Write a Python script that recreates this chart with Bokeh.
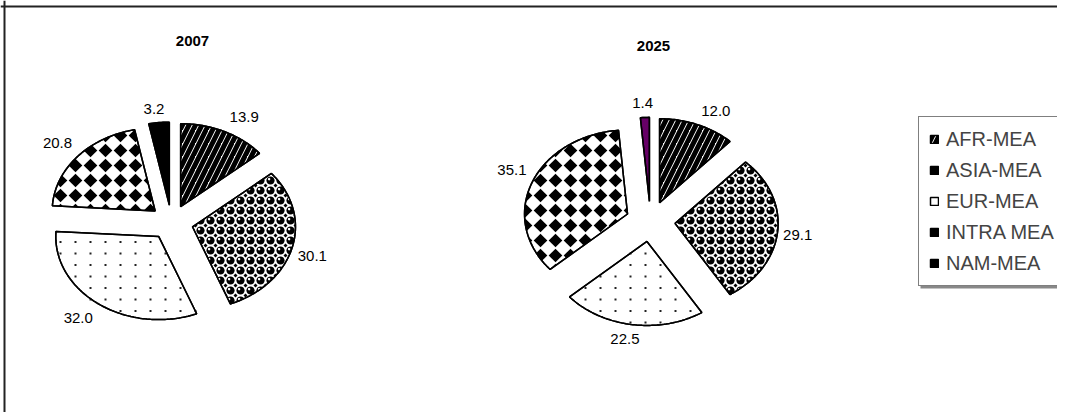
import numpy as np
from bokeh.plotting import figure
from bokeh.models import (ColumnDataSource, Range1d, Legend, LegendItem, Span,
                          BoxAnnotation)
from bokeh.core.properties import value
from bokeh.embed import file_html
from bokeh.resources import INLINE

# ---------------- data ----------------
categories = ["AFR-MEA", "ASIA-MEA", "EUR-MEA", "INTRA MEA", "NAM-MEA"]
years = ["2007", "2025"]
values_2007 = [13.9, 30.1, 32.0, 20.8, 3.2]
values_2025 = [12.0, 29.1, 22.5, 35.1, 1.4]

# ---------------- styles ----------------
base_hatch = ["right_diagonal_line", " ", " ", " ", " "]
pattern_kind = [None, "spheres", "dots", "diamonds", None]
nam_colors = ["black", "#660066"]

FONT = "Liberation Sans"
W, H = 1057, 412


def clip_convex(subj, clip):
    """Sutherland-Hodgman clipping of polygon subj against convex polygon clip."""
    area = sum(clip[i][0] * clip[(i + 1) % len(clip)][1] - clip[(i + 1) % len(clip)][0] * clip[i][1]
               for i in range(len(clip)))
    s = 1.0 if area > 0 else -1.0
    out = list(subj)
    n = len(clip)
    for i in range(n):
        if not out:
            break
        ax, ay = clip[i]
        bx, by = clip[(i + 1) % n]

        def inside(pt):
            return s * ((bx - ax) * (pt[1] - ay) - (by - ay) * (pt[0] - ax)) >= 0

        def inter(p1, p2):
            x1, y1 = p1
            x2, y2 = p2
            den = (x1 - x2) * (ay - by) - (y1 - y2) * (ax - bx)
            if abs(den) < 1e-12:
                return p2
            t = ((x1 - ax) * (ay - by) - (y1 - ay) * (ax - bx)) / den
            return (x1 + t * (x2 - x1), y1 + t * (y2 - y1))

        inp, out = out, []
        prev = inp[-1]
        for cur in inp:
            if inside(cur):
                if not inside(prev):
                    out.append(inter(prev, cur))
                out.append(cur)
            elif inside(prev):
                out.append(inter(prev, cur))
            prev = cur
    return out


def grid(poly, sx, sy):
    xs_ = [q[0] for q in poly]
    ys_ = [q[1] for q in poly]
    gx = np.arange(np.floor(min(xs_) / sx) * sx - sx, max(xs_) + sx, sx)
    gy = np.arange(np.floor(min(ys_) / sy) * sy - sy, max(ys_) + sy, sy)
    return [(x, y) for y in gy for x in gx]


def circle(x, y, r, n=16):
    t = np.linspace(0, 2 * np.pi, n, endpoint=False)
    return list(zip(x + r * np.cos(t), y + r * np.sin(t)))


p = figure(width=W, height=H, output_backend="svg", toolbar_location=None,
           x_range=Range1d(0, W), y_range=Range1d(H, 0),
           min_border=0, background_fill_color="white", border_fill_color="white")
p.axis.visible = False
p.grid.visible = False
p.outline_line_color = None

# outer chart frame (left and top edges visible)
p.add_layout(Span(location=4, dimension="height", line_color="#222222", line_width=2))
p.add_layout(Span(location=6, dimension="width", line_color="#222222", line_width=2))

# pie layout: centre, radii (elliptical), explosion
pies = [
    dict(values=values_2007, cx=171, cy=222, rx=103, ry=83, explode=0.21, title_xy=(192, 40)),
    dict(values=values_2025, cx=650, cy=221, rx=103, ry=84, explode=0.24, title_xy=(653, 45)),
]

blk_x, blk_y, wht_x, wht_y, dot_x, dot_y = [], [], [], [], [], []
outline_x, outline_y = [], []
base_renderers = []
for k, pie in enumerate(pies):
    vals = np.array(pie["values"], dtype=float)
    frac = vals / vals.sum()
    cum = np.concatenate([[0], np.cumsum(frac)])
    xs, ys, fills = [], [], []
    lx, ly, ltxt = [], [], []
    cx, cy, rx, ry, e = pie["cx"], pie["cy"], pie["rx"], pie["ry"], pie["explode"]
    for i in range(len(vals)):
        a0, a1 = 2 * np.pi * cum[i], 2 * np.pi * cum[i + 1]
        bis = 0.5 * (a0 + a1)
        ox, oy = e * rx * np.sin(bis), -e * ry * np.cos(bis)
        n = max(4, int(np.degrees(a1 - a0)))
        t = np.linspace(a0, a1, n)
        px = cx + ox + rx * np.sin(t)
        py = cy + oy - ry * np.cos(t)
        sx = [cx + ox] + list(px)
        sy = [cy + oy] + list(py)
        xs.append(sx)
        ys.append(sy)
        fills.append(nam_colors[k] if i == 4 else "white")
        poly = list(zip(sx, sy))

        kind = pattern_kind[i]
        if kind == "diamonds":
            hd = 6.8
            for (gx, gy) in grid(poly, 15, 15):
                c = clip_convex([(gx, gy - hd), (gx + hd, gy), (gx, gy + hd), (gx - hd, gy)], poly)
                if len(c) >= 3:
                    blk_x.append([q[0] for q in c]); blk_y.append([q[1] for q in c])
        elif kind == "spheres":
            for (gx, gy) in grid(poly, 10, 10):
                c = clip_convex(circle(gx, gy, 4.1), poly)
                if len(c) >= 3:
                    blk_x.append([q[0] for q in c]); blk_y.append([q[1] for q in c])
                c = clip_convex([(gx + 5, gy + 3), (gx + 7, gy + 5), (gx + 5, gy + 7), (gx + 3, gy + 5)], poly)
                if len(c) >= 3:
                    blk_x.append([q[0] for q in c]); blk_y.append([q[1] for q in c])
                c = clip_convex(circle(gx - 1.4, gy - 1.4, 1.3, 8), poly)
                if len(c) >= 3:
                    wht_x.append([q[0] for q in c]); wht_y.append([q[1] for q in c])
        elif kind == "dots":
            for (gx, gy) in grid(poly, 15, 11.5):
                if len(clip_convex([(gx - 1, gy - 1), (gx + 1, gy - 1), (gx + 1, gy + 1), (gx - 1, gy + 1)], poly)) == 4:
                    dot_x.append(gx); dot_y.append(gy)

        ux, uy = np.sin(bis), -np.cos(bis)
        outx = cx + (1 + e) * rx * ux
        outy = cy + (1 + e) * ry * uy
        lx.append(outx + 20 * np.clip(2.5 * ux, -1, 1))
        ly.append(outy + 14 * np.clip(2.5 * uy, -1, 1))
        ltxt.append(f"{vals[i]:.1f}")
    outline_x += xs
    outline_y += ys
    src = ColumnDataSource(dict(xs=xs, ys=ys, fill=fills, hp=base_hatch, cat=categories))
    r = p.patches("xs", "ys", source=src, fill_color="fill", line_color="black",
                  line_width=1.5, hatch_pattern="hp", hatch_scale=13,
                  hatch_weight=5, hatch_color="black")
    base_renderers.append(r)
    lsrc = ColumnDataSource(dict(x=lx, y=ly, t=ltxt))
    p.text("x", "y", text="t", source=lsrc, text_font=value(FONT),
           text_font_size="15px", text_align="center", text_baseline="middle",
           text_color="black")
    tx, ty = pie["title_xy"]
    p.text(x=[tx], y=[ty], text=[years[k]], text_font=value(FONT),
           text_font_size="15px", text_font_style="bold", text_align="center",
           text_baseline="middle", text_color="black")

# fill patterns (spheres, diamonds, sparse dots) clipped to their slices
blk = p.patches(blk_x, blk_y, fill_color="black", line_color=None)
p.patches(wht_x, wht_y, fill_color="white", line_color=None)
p.scatter(dot_x, dot_y, marker="square", size=2, fill_color="#222222", line_color=None)
# slice outlines on top
p.patches(outline_x, outline_y, fill_alpha=0, line_color="black", line_width=1.5)

# legend (with a soft drop shadow underneath)
leg_top, leg_left = 118, 918
pad, lh, sp = 10, 24, 7
leg_h = 2 * pad + len(categories) * lh + (len(categories) - 1) * sp
p.add_layout(BoxAnnotation(left=leg_left + 2, right=W + 20, top=leg_top + 2,
                           bottom=leg_top + leg_h + 2, fill_color="#888888",
                           fill_alpha=1.0, line_color=None))
items = []
for i, c in enumerate(categories):
    rends = [base_renderers[0]]
    if pattern_kind[i] in ("spheres", "diamonds"):
        rends.append(blk)
    items.append(LegendItem(label=c, renderers=rends, index=i))
legend = Legend(items=items, location=(leg_left, H - leg_top - leg_h), orientation="vertical",
                label_text_font=FONT, label_text_font_size="20px",
                glyph_width=10, glyph_height=10, label_standoff=7,
                label_height=lh, spacing=sp, padding=pad, margin=0,
                border_line_color="black", border_line_width=1,
                background_fill_color="white", background_fill_alpha=1.0)
p.add_layout(legend)

open("out.html", "w").write(file_html(p, INLINE))
